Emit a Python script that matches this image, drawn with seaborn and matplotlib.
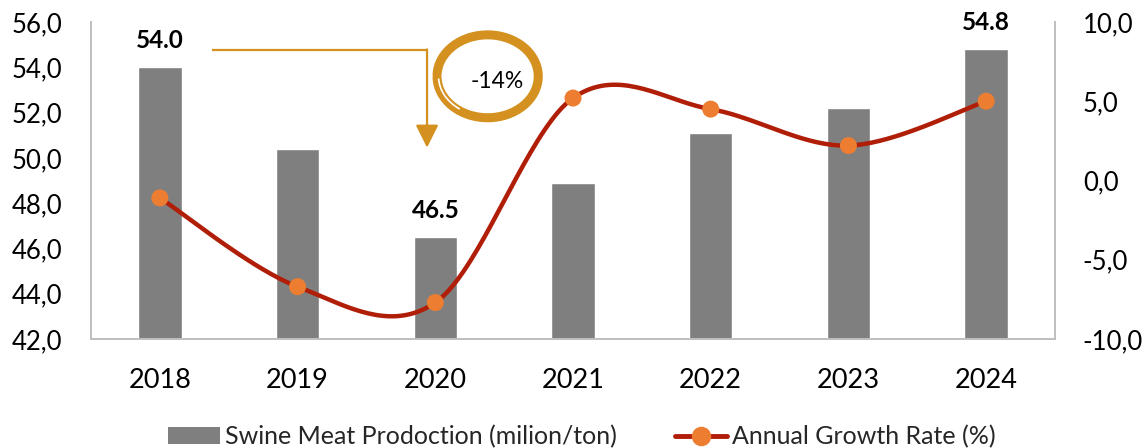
import numpy as np
import pandas as pd
import matplotlib
matplotlib.use("Agg")
import matplotlib.pyplot as plt
from matplotlib.patches import Arc, Patch
from matplotlib.lines import Line2D
import seaborn as sns

# ---- data ----
years = ["2018", "2019", "2020", "2021", "2022", "2023", "2024"]
production = [54.0, 50.4, 46.5, 48.9, 51.1, 52.2, 54.8]      # million ton
growth = [-1.1, -6.7, -7.7, 5.2, 4.5, 2.2, 5.0]             # annual growth, %
labelled_years = ["2018", "2020", "2024"]
change_label = "-14%"

BAR = "#7F7F7F"
LINE = "#B01E08"
MARK = "#ED7D31"
GOLD = "#D4911F"
SPINE = "#BFBFBF"

sns.set_theme(style="white")
plt.rcParams["font.family"] = ["Lato", "DejaVu Sans"]

fig = plt.figure(figsize=(11.45, 4.48), dpi=100)
ax = fig.add_axes([0.0795, 0.2433, 0.8419, 0.7077])

df = pd.DataFrame({"year": years, "production": production, "growth": growth})
sns.barplot(data=df, x="year", y="production", color=BAR, width=0.315,
            saturation=1, ax=ax, zorder=2)
ax.set_ylim(42, 56)
ax.set_xlim(-0.5, len(years) - 0.5)
ax.set_yticks(np.arange(42, 56.1, 2))
ax.set_yticklabels([f"{v:.1f}".replace(".", ",") for v in np.arange(42, 56.1, 2)])
ax.set_xlabel("")
ax.set_ylabel("")

# value labels above selected bars
for i, (yr, v) in enumerate(zip(years, production)):
    if yr in labelled_years:
        ax.annotate(f"{v:.1f}", xy=(i, v), xytext=(0, 19), textcoords="offset points",
                    ha="center", va="center", fontsize=17.5, fontweight="bold",
                    color="#000000")

# growth rate on the secondary axis, smoothed with Bezier segments
ax2 = ax.twinx()
ax2.set_ylim(-10, 10)
ax2.set_yticks([-10, -5, 0, 5, 10])
ax2.set_yticklabels([f"{v:.1f}".replace(".", ",") for v in [-10, -5, 0, 5, 10]])

xs = np.arange(len(growth), dtype=float)
ys = np.array(growth, dtype=float)
P = np.column_stack([xs, ys])
Pext = np.vstack([P[0], P, P[-1]])
curve = []
t = np.linspace(0, 1, 40)[:, None]
for k in range(len(P) - 1):
    p0, p1, p2, p3 = Pext[k], Pext[k + 1], Pext[k + 2], Pext[k + 3]
    c1 = p1 + (p2 - p0) / 6.0
    c2 = p2 - (p3 - p1) / 6.0
    seg = ((1 - t) ** 3) * p1 + 3 * ((1 - t) ** 2) * t * c1 + 3 * (1 - t) * t ** 2 * c2 + t ** 3 * p2
    curve.append(seg if k == 0 else seg[1:])
curve = np.vstack(curve)
smooth = pd.DataFrame({"x": curve[:, 0], "y": curve[:, 1]})
sns.lineplot(data=smooth, x="x", y="y", sort=False, color=LINE, lw=3.2, ax=ax2, zorder=3)
sns.scatterplot(x=xs, y=ys, color=MARK, s=150, edgecolor="none", ax=ax2, zorder=4)
ax2.set_xlabel("")
ax2.set_ylabel("")

# axes styling
for a in (ax, ax2):
    a.spines["top"].set_visible(False)
    for side in ("left", "bottom", "right"):
        a.spines[side].set_color(SPINE)
        a.spines[side].set_linewidth(1.2)
    a.tick_params(length=0, labelsize=18.5, colors="#000000")
    a.grid(False)
ax.tick_params(axis="x", labelsize=19.5, pad=21)
ax.tick_params(axis="y", pad=21)
ax2.tick_params(axis="y", pad=20)

# drop annotation from the 2018 peak to the 2020 trough
y_line = 54.76
x0, x1 = 0.38, 1.94
ax.plot([x0, x1], [y_line, y_line], color=GOLD, lw=1.6, zorder=5, solid_capstyle="butt")
ax.annotate("", xy=(x1, 50.45), xytext=(x1, y_line + 0.03),
            arrowprops=dict(arrowstyle="-|>,head_length=0.7,head_width=0.35",
                            color=GOLD, lw=1.6, mutation_scale=20, shrinkA=0, shrinkB=0),
            zorder=5)

# brush-style loop around the change label
cx, cy, w, h = 2.38, 53.6, 0.735, 3.66
ax.add_patch(Arc((cx, cy), w, h, theta1=-172, theta2=168, color=GOLD, lw=6.5,
                 zorder=5, capstyle="round"))
ax.add_patch(Arc((cx, cy), w * 0.97, h * 0.96, theta1=195, theta2=262, color="white",
                 lw=1.2, zorder=6))
ax.text(2.45, 53.35, change_label, ha="center", va="center", fontsize=16.5,
        color="#000000", zorder=6)

# legend
handles = [Patch(facecolor=BAR, edgecolor="none"),
           Line2D([0], [0], color=LINE, lw=3.5, marker="o", markersize=13,
                  markerfacecolor=MARK, markeredgecolor=MARK)]
labels = ["Swine Meat Prodoction (milion/ton)", "Annual Growth Rate (%)"]
fig.legend(handles, labels, loc="center", bbox_to_anchor=(0.508, 0.025), ncol=2,
           frameon=False, fontsize=18, columnspacing=2.3, handlelength=2.1,
           handletextpad=0.2)

fig.savefig("out.png", dpi=100)
